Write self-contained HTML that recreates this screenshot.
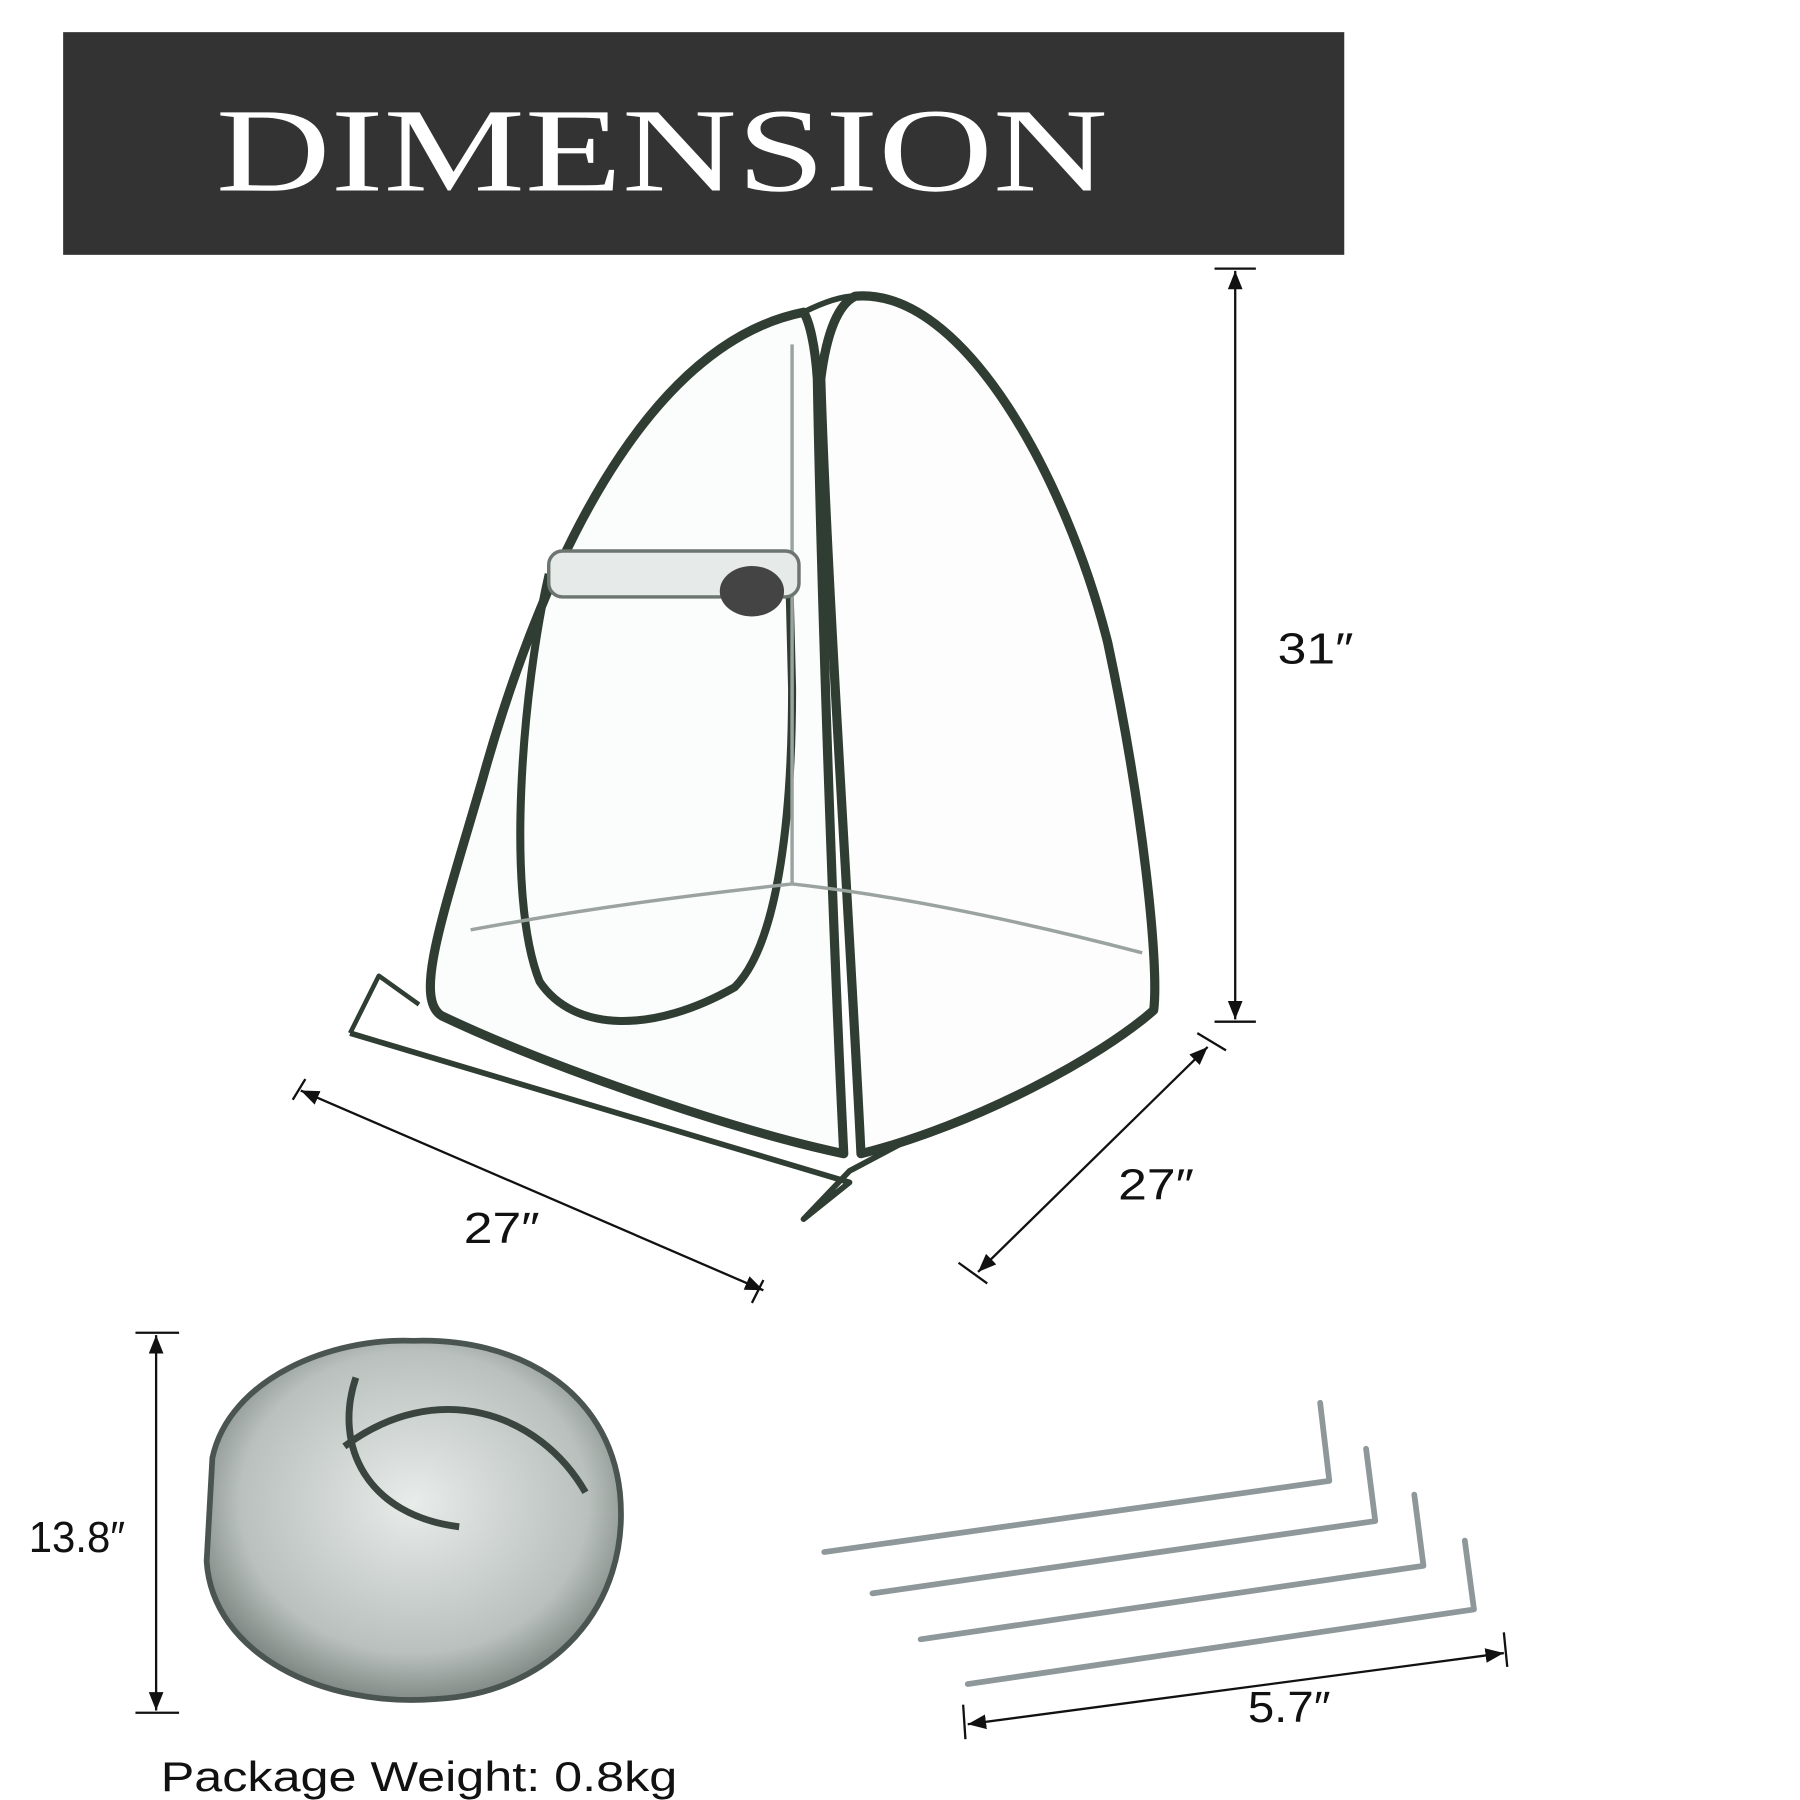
<!DOCTYPE html>
<html><head><style>html,body{margin:0;padding:0;background:#fff}svg{display:block}</style></head>
<body>
<svg width="1800" height="1800" viewBox="0 0 1568 1568" xmlns="http://www.w3.org/2000/svg">
<defs>
<marker id="a" viewBox="0 0 10 10" refX="10" refY="5" markerWidth="8" markerHeight="8" orient="auto-start-reverse"><path d="M0,1 L10,5 L0,9 z" fill="#111"/></marker>
<radialGradient id="g" cx="50%" cy="45%" r="60%"><stop offset="0" stop-color="#e8ecea"/><stop offset="0.7" stop-color="#b9c0bd"/><stop offset="1" stop-color="#6e7773"/></radialGradient>
</defs>
<rect width="1568" height="1568" fill="#fff"/>
<rect x="55" y="28" width="1116" height="194" fill="#333"/>
<text x="188" y="166" font-family="Liberation Serif, serif" font-size="104" fill="#fff" textLength="777" lengthAdjust="spacingAndGlyphs">DIMENSION</text>

<!-- tent -->
<g fill="none" stroke="#2f3d33" stroke-width="8" stroke-linejoin="round">
<path d="M305,900 L740,1030 L700,1062 L740,1020 L1005,880" stroke-width="5"/>
<path d="M305,900 L330,850 L365,875" stroke-width="4"/>
<path d="M700,272 C560,300 470,500 420,680 C385,800 360,870 385,885 C480,930 640,985 735,1005 C725,800 715,500 712,330 C710,300 705,280 700,272 Z" fill="#fbfcfc"/>
<path d="M745,258 C840,250 930,420 965,560 C995,700 1010,840 1005,880 C960,920 850,980 750,1005 C740,800 720,500 715,330 C720,290 730,265 745,258 Z" fill="#fdfdfd"/>
<path d="M478,500 C455,600 440,780 470,855 C500,900 570,900 640,860 C680,820 690,700 690,600 L688,520" stroke-width="7"/>
<path d="M700,272 C720,262 735,258 745,258" stroke-width="5"/>
</g>
<g stroke="#9aa3a0" stroke-width="3" fill="none">
<path d="M410,810 C520,790 600,780 690,770 C780,780 880,800 995,830"/>
<path d="M690,300 L690,770"/>
</g>
<rect x="478" y="480" width="218" height="40" rx="12" fill="#e6eae8" stroke="#6c7570" stroke-width="3"/>
<ellipse cx="655" cy="515" rx="28" ry="22" fill="#444"/>

<!-- dims -->
<g stroke="#111" stroke-width="2" fill="none">
<line x1="1076" y1="236" x2="1076" y2="888" marker-start="url(#a)" marker-end="url(#a)"/>
<line x1="1058" y1="234" x2="1094" y2="234"/><line x1="1058" y1="890" x2="1094" y2="890"/>
<line x1="262" y1="950" x2="665" y2="1124" marker-start="url(#a)" marker-end="url(#a)"/>
<line x1="255" y1="958" x2="266" y2="940"/><line x1="655" y1="1135" x2="665" y2="1115"/>
<line x1="1052" y1="912" x2="852" y2="1108" marker-start="url(#a)" marker-end="url(#a)"/>
<line x1="1043" y1="900" x2="1068" y2="915"/><line x1="835" y1="1100" x2="860" y2="1118"/>
<line x1="136" y1="1163" x2="136" y2="1490" marker-start="url(#a)" marker-end="url(#a)"/>
<line x1="118" y1="1161" x2="156" y2="1161"/><line x1="118" y1="1492" x2="156" y2="1492"/>
<line x1="843" y1="1502" x2="1310" y2="1440" marker-start="url(#a)" marker-end="url(#a)"/>
<line x1="839" y1="1485" x2="841" y2="1515"/><line x1="1310" y1="1422" x2="1313" y2="1452"/>
</g>
<g font-family="Liberation Sans, sans-serif" font-size="38" fill="#111">
<text x="1113" y="578" textLength="66" lengthAdjust="spacingAndGlyphs">31″</text>
<text x="404" y="1083" textLength="66" lengthAdjust="spacingAndGlyphs">27″</text>
<text x="974" y="1045" textLength="66" lengthAdjust="spacingAndGlyphs">27″</text>
<text x="25" y="1352" textLength="84" lengthAdjust="spacingAndGlyphs">13.8″</text>
<text x="1087" y="1500" textLength="72" lengthAdjust="spacingAndGlyphs">5.7″</text>
<text x="140" y="1560" font-size="36" textLength="450" lengthAdjust="spacingAndGlyphs">Package Weight: 0.8kg</text>
</g>

<!-- package -->
<path d="M185,1270 C200,1200 290,1165 360,1168 C450,1165 530,1210 540,1300 C550,1400 480,1475 380,1480 C280,1488 185,1440 180,1360 Z" fill="url(#g)" stroke="#4a5450" stroke-width="5"/>
<path d="M310,1200 C290,1260 320,1320 400,1330 M300,1260 C380,1200 470,1230 510,1300" stroke="#3a4540" stroke-width="6" fill="none"/>

<!-- stakes -->
<g fill="none" stroke="#8e979a" stroke-width="5" stroke-linecap="round" stroke-linejoin="round">
<path d="M718,1352 L1158,1290 L1150,1222"/>
<path d="M760,1388 L1198,1325 L1190,1262"/>
<path d="M802,1428 L1240,1364 L1232,1302"/>
<path d="M843,1467 L1284,1402 L1276,1342"/>
</g>
</svg>
</body></html>
